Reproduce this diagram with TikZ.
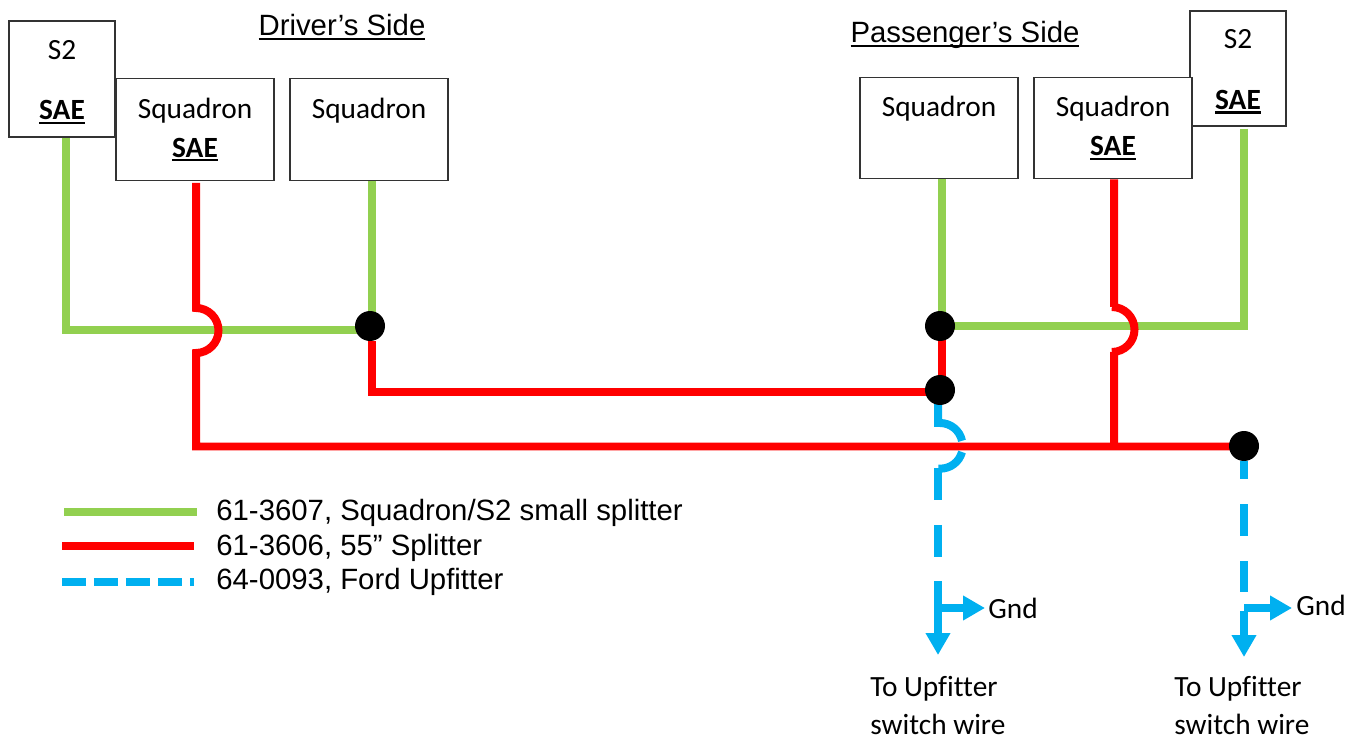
\documentclass[tikz,border=0pt]{standalone}
\usepackage{fontspec}
\setmainfont{Carlito}[Ligatures=NoCommon]
\newfontfamily\arialfont{Liberation Sans}
\usetikzlibrary{arrows.meta, backgrounds}
\definecolor{wgreen}{HTML}{92D050}
\definecolor{wred}{HTML}{FF0000}
\definecolor{wblue}{HTML}{00B0F0}
\newcommand{\ulbar}[1]{\setbox0=\hbox{#1}\rlap{\rule[-2.4pt]{\wd0}{1.2pt}}\box0}
\newcommand{\sae}{\ulbar{\textbf{SAE}}}
\tikzset{
	box/.style = {draw=black!80, line width=.8pt, fill=white, align=center, inner sep=0, font=\fontsize{16.7}{20}\selectfont},
	sqbox/.style = {box, minimum width=3.16cm, minimum height=2.03cm},
	dot/.style = {circle, fill=black, inner sep=0, minimum size=.6cm},
	wire/.style = {line width=.16cm},
	greenw/.style = {wire, draw=wgreen},
	redw/.style = {wire, draw=wred},
	bluew/.style = {wire, draw=wblue},
	blued/.style = {bluew, dash pattern=on .64cm off .5cm},
	bluea/.style = {bluew, -{Triangle[length=.44cm, width=.47cm]}},
	calibri/.style = {inner sep=0, font=\fontsize{16.7}{20}\selectfont},
	arial/.style = {inner sep=0, anchor=base west, font=\arialfont\fontsize{16.7}{20}\selectfont}
}
\begin{document}
\begin{tikzpicture}[x=.02cm, y=-.02cm]
	\useasboundingbox (0,0) rectangle (1359,736);
	\node [box, minimum width=2.12cm, minimum height=2.32cm, text depth=0pt] (s2L) at (62,79) {};
	\node [box, draw=none, fill=none] (s2Ltxt) at (62,82) {S2\\[14.6pt]\sae};
	\node [sqbox] (sqA) at (195,129.5) {Squadron\\[2.2pt]\sae};
	\node [sqbox] (sqB) at (369,129.5) {Squadron\\[2.2pt]\phantom{\sae}};
	\node [box, minimum width=1.92cm, minimum height=2.3cm] (s2R) at (1238,68.5) {};
	\node [box, draw=none, fill=none] (s2Rtxt) at (1238,71.5) {S2\\[14.6pt]\sae};
	\node [sqbox] (sqC) at (939,128) {Squadron\\[2.2pt]\phantom{\sae}};
	\node [sqbox] (sqD) at (1113,128) {Squadron\\[2.2pt]\sae};
	\node [arial, anchor=base] (drv) at (342,36) {\ulbar{Driver’s Side}};
	\node [arial, anchor=base] (psg) at (965,43) {\ulbar{Passenger’s Side}};
	\node [dot] (dotA) at (370,326) {};
	\node [dot] (dotB) at (940,326) {};
	\node [dot] (dotC) at (940,390) {};
	\node [dot] (dotD) at (1244,446) {};
	\coordinate (gcL) at (66,330);
	\coordinate (gcR) at (1244,326.5);
	\coordinate (gcC) at (942,326);
	\coordinate (rcA) at (372,392);
	\coordinate (rcB) at (196,446.5);
	\coordinate (hopA) at (196,308);
	\coordinate (hopB) at (1114,307);
	\coordinate (hopC) at (938,423);
	\coordinate (hopCb) at (938,468);
	\coordinate (tapD) at (1114,446.5);
	\coordinate (endC) at (938,655);
	\coordinate (gndC) at (985,608);
	\coordinate (endD) at (1244,657);
	\coordinate (gndD) at (1292,608);
	\begin{scope}[on background layer]
		\draw [greenw] (s2L.south -| gcL) -- (gcL) -- (gcL -| dotA);
		\draw [greenw] (sqB.south -| rcA) -- (rcA |- dotA);
		\draw [greenw] (sqC.south -| gcC) -- (gcC);
		\draw [greenw] (s2R.south -| gcR) ++(0,2) -- (gcR) -- (gcR -| dotB);
		\draw [bluew] (dotC) ++(-2,0) -- (hopC) -- ++(2,0) arc [start angle=90, end angle=12, radius=.45cm];
		\draw [bluew] (962,452) arc [start angle=-15, end angle=-90, radius=.45cm] -- ++(-2,0);
		\draw [redw] (sqA.south -| hopA) ++(0,2) -- (hopA) arc [start angle=90, end angle=-90, radius=.45cm] -- (rcB) -- (rcB -| dotD);
		\draw [redw] (dotA.south -| rcA) -- (rcA) -- (rcA -| dotC);
		\draw [redw] (gcC) -- (gcC |- dotC);
		\draw [redw] (sqD.south -| hopB) -- (hopB) -- ++(-2,0) arc [start angle=90, end angle=-90, radius=.45cm] -- ++(2,0) -- (tapD);
		\draw [blued] (hopCb) -- (938,557);
		\draw [blued, dash phase=.28cm] (dotD.south) -- (1244,592);
	\end{scope}
	\draw [bluea] (938,581) -- (endC);
	\draw [bluea] (gndC -| endC) -- (gndC);
	\node [calibri, anchor=base west] (txtGndC) at (988,618) {Gnd};
	\draw [bluea] (1244,611) -- (endD);
	\draw [bluea] (gndD -| endD) -- (gndD);
	\node [calibri, anchor=base west] (txtGndD) at (1296,615) {Gnd};
	\node [calibri, anchor=north west, align=left, font=\fontsize{16.7}{21.6}\selectfont] (upfC) at (870,676) {To Upfitter\\switch wire};
	\node [calibri, anchor=north west, align=left, font=\fontsize{16.7}{21.6}\selectfont] (upfD) at (1174,676) {To Upfitter\\switch wire};
	\coordinate (lgA) at (64,512);
	\coordinate (lgB) at (62,546);
	\coordinate (lgC) at (62,582);
	\draw [greenw] (lgA) -- ++(133,0);
	\draw [redw] (lgB) -- ++(132,0);
	\draw [bluew, dash pattern=on .48cm off .16cm] (lgC) -- ++(132,0);
	\node [arial] (txtA) at (216,520) {61-3607, Squadron/S2 small splitter};
	\node [arial] (txtB) at (216,555) {61-3606, 55” Splitter};
	\node [arial] (txtC) at (216,589) {64-0093, Ford Upfitter};
\end{tikzpicture}
\end{document}
